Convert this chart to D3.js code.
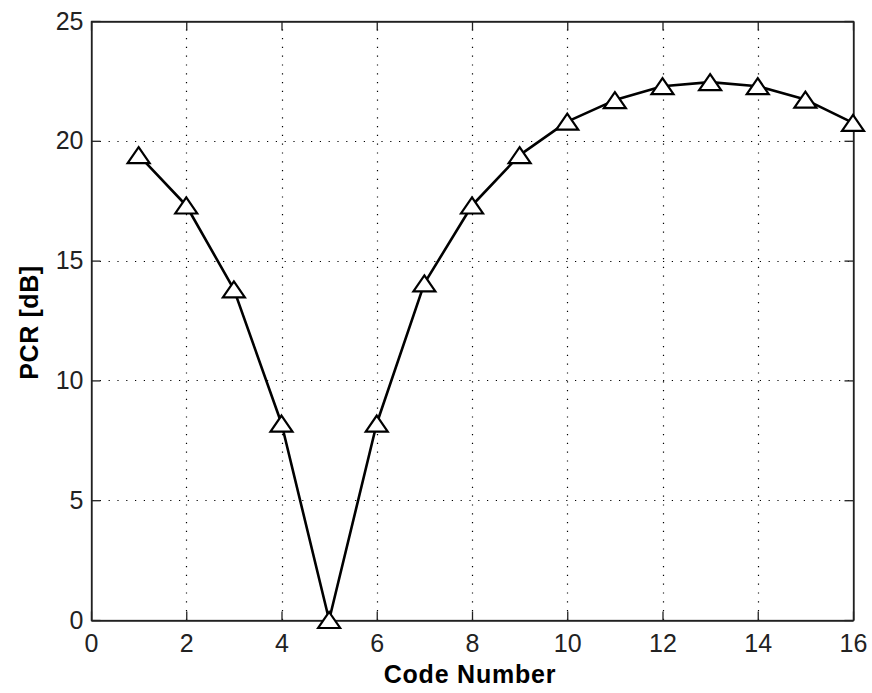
<!DOCTYPE html>
<html>
<head>
<meta charset="utf-8">
<script src="https://cdn.jsdelivr.net/npm/d3@7"></script>
<style>
  html, body { margin: 0; padding: 0; background: #fff; }
  svg { display: block; }
  .tick text { font-family: "Liberation Sans", Arial, sans-serif; font-size: 25px; fill: #222; }
</style>
</head>
<body>
<svg id="chart" width="872" height="693"></svg>
<script>
// Code number vs. PCR in dB
const codeNumbers = [1, 2, 3, 4, 5, 6, 7, 8, 9, 10, 11, 12, 13, 14, 15, 16];
const pcrValues = [19.4, 17.3, 13.8, 8.2, 0, 8.2, 14.05, 17.3, 19.4, 20.8, 21.7, 22.28, 22.45, 22.28, 21.72, 20.75];
const xTicks = [0, 2, 4, 6, 8, 10, 12, 14, 16];
const yTicks = [0, 5, 10, 15, 20, 25];

const svg = d3.select("#chart");
const plotL = 91, plotR = 853, plotT = 21, plotB = 620;

const x = d3.scaleLinear().domain([0, 16]).range([plotL, plotR]);
const y = d3.scaleLinear().domain([0, 25]).range([plotB, plotT]);

// dotted grid
const grid = svg.append("g").attr("stroke", "#000").attr("stroke-width", 1.2)
  .attr("stroke-dasharray", "1.2 7.6");
grid.selectAll("line.gx").data(xTicks.slice(1, -1)).join("line")
  .attr("x1", d => Math.round(x(d)) + 0.5).attr("x2", d => Math.round(x(d)) + 0.5)
  .attr("y1", plotB).attr("y2", plotT);
grid.selectAll("line.gy").data(yTicks.slice(1, -1)).join("line")
  .attr("y1", d => Math.round(y(d)) + 0.5).attr("y2", d => Math.round(y(d)) + 0.5)
  .attr("x1", plotL).attr("x2", plotR);

// frame
svg.append("rect").attr("x", plotL + 0.5).attr("y", plotT + 0.5)
  .attr("width", plotR - plotL).attr("height", plotB - plotT)
  .attr("fill", "none").attr("stroke", "#222").attr("stroke-width", 1.3);

// axes with inward ticks
const tk = 9;
const gx = svg.append("g").attr("transform", `translate(0,${plotB + 0.5})`)
  .call(d3.axisBottom(x).tickValues(xTicks).tickSize(-tk).tickSizeOuter(0).tickPadding(14));
const gy = svg.append("g").attr("transform", `translate(${plotL + 0.5},0)`)
  .call(d3.axisLeft(y).tickValues(yTicks).tickSize(-tk).tickSizeOuter(0).tickPadding(8));
const gxt = svg.append("g").attr("transform", `translate(0,${plotT + 0.5})`)
  .call(d3.axisTop(x).tickValues(xTicks).tickSize(-tk).tickSizeOuter(0).tickFormat(""));
const gyr = svg.append("g").attr("transform", `translate(${plotR + 0.5},0)`)
  .call(d3.axisRight(y).tickValues(yTicks).tickSize(-tk).tickSizeOuter(0).tickFormat(""));
[gx, gy, gxt, gyr].forEach(g => {
  g.select(".domain").attr("stroke", "#222").attr("stroke-width", 1.3);
  g.selectAll(".tick line").attr("stroke", "#222").attr("stroke-width", 1.3);
});

// data line
const pts = codeNumbers.map((c, i) => [c, pcrValues[i]]);
svg.append("path").datum(pts)
  .attr("fill", "none").attr("stroke", "#000").attr("stroke-width", 2.6)
  .attr("stroke-linejoin", "round")
  .attr("d", d3.line().x(d => x(d[0])).y(d => y(d[1])));

// triangle markers
const tri = "M0,-8 L11,8 L-11,8 Z";
svg.append("g").selectAll("path").data(pts).join("path")
  .attr("transform", d => `translate(${x(d[0])},${y(d[1])})`)
  .attr("d", tri).attr("fill", "#fff").attr("stroke", "#000").attr("stroke-width", 2.2)
  .attr("stroke-linejoin", "miter");

// axis titles
svg.append("text").attr("x", (plotL + plotR) / 2 - 2).attr("y", 683)
  .attr("text-anchor", "middle")
  .style("font-family", "Liberation Sans, Arial, sans-serif")
  .style("font-size", "25px").style("font-weight", "bold").style("letter-spacing", "0.8px")
  .text("Code Number");
svg.append("text").attr("transform", `translate(38,${(plotT + plotB) / 2 + 2}) rotate(-90)`)
  .attr("text-anchor", "middle")
  .style("font-family", "Liberation Sans, Arial, sans-serif")
  .style("font-size", "25px").style("font-weight", "bold").style("letter-spacing", "0.6px")
  .text("PCR [dB]");
</script>
</body>
</html>
